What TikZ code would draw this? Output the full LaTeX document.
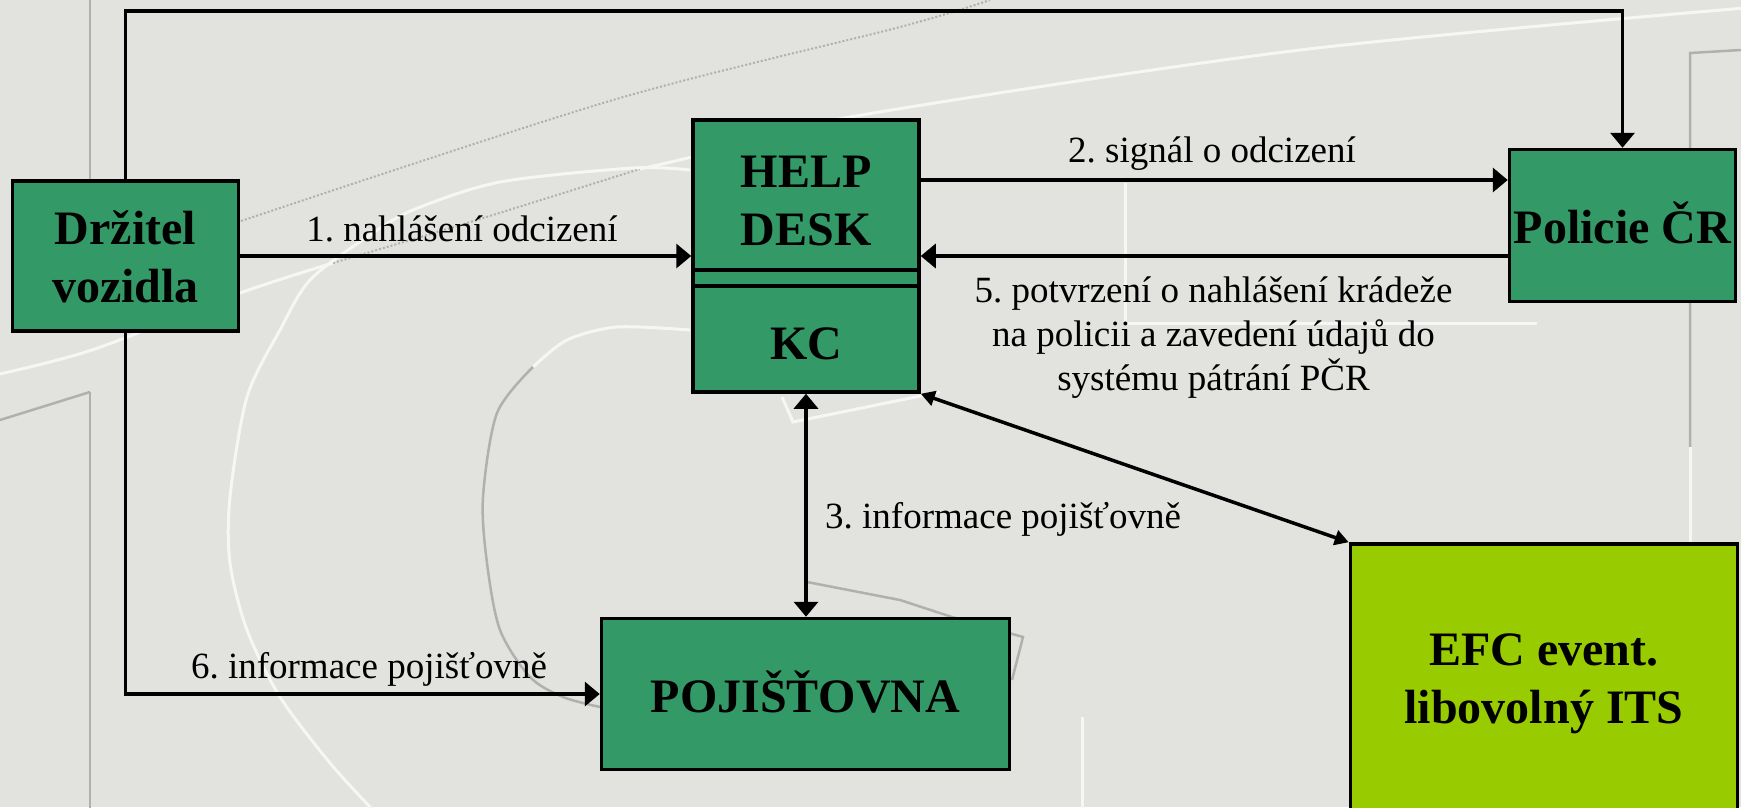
\documentclass[tikz,border=0pt]{standalone}
\usepackage{fontspec}
\setmainfont{Liberation Serif}
\frenchspacing
\usetikzlibrary{arrows.meta,calc}
\definecolor{bg}{RGB}{226,227,223}
\definecolor{boxgreen}{RGB}{51,153,102}
\definecolor{efcgreen}{RGB}{153,204,0}
\definecolor{wmwhite}{RGB}{246,246,244}
\definecolor{wmgray}{RGB}{176,176,174}
\begin{document}
\begin{tikzpicture}[x=1pt,y=-1pt,
  box/.style={draw=black, line width=3.5pt, fill=boxgreen, inner sep=0pt, align=center,
    font=\fontsize{48}{58}\selectfont\bfseries, text depth=0pt},
  lbl/.style={font=\fontsize{37}{44}\selectfont, inner sep=0pt},
  arr/.style={line width=3.5pt, -{Triangle[length=15pt,width=24pt]}},
  darr/.style={line width=3.5pt, {Triangle[length=15pt,width=24pt]}-{Triangle[length=15pt,width=24pt]}},
  diag/.style={line width=3.5pt, {Triangle[length=14pt,width=15pt]}-{Triangle[length=14pt,width=15pt]}},
  wmw/.style={draw=wmwhite, line width=3pt},
  wmg/.style={draw=wmgray, line width=2.5pt},
  wmd/.style={draw=wmgray, line width=2pt, dash pattern=on 2pt off 2pt}
]
\useasboundingbox (0,0) rectangle (1741,807);
\clip (0,0) rectangle (1741,807);
\fill[bg] (0,0) rectangle (1741,807);
% watermark
\draw[wmw] plot[smooth] coordinates {(-5,375) (92,350) (240,293) (333,263)};
\draw[wmd] plot[smooth] coordinates {(333,263) (467,223) (640,169)};
\draw[wmw] plot[smooth] coordinates {(640,169) (700,155) (850,117) (1300,50) (1745,8)};
\draw[wmd] plot[smooth] coordinates {(241,221) (613,100) (900,27) (990,0)};
\draw[wmw] plot[smooth] coordinates {(373,810) (330,763) (280,697) (247,630) (230,563) (230,497) (247,397) (280,330) (310,280) (367,237) (413,210) (500,182) (633,168) (690,170)};
\draw[wmw] plot[smooth] coordinates {(690,330) (617,327) (567,340) (533,367)};
\draw[wmg] plot[smooth] coordinates {(533,367) (497,413) (483,497) (487,563) (500,630) (530,677) (563,697) (600,707)};
\draw[wmg] (90,0) -- (90,180);
\draw[wmg] (90,392) -- (90,810);
\draw[wmg] (0,420) -- (90,392);
\draw[wmg] (1741,50) -- (1690,53) -- (1690,447);
\draw[wmw] (1690,447) -- (1690,543);
\draw[wmw] (1125,183) -- (1125,323) -- (1537,323);
\draw[wmw] (782,397) -- (793,422) -- (940,392);
\draw[wmg] (807,582) -- (900,600) -- (952,617) -- (1023,637) -- (1012,680);
\draw[wmw] (1082,717) -- (1082,810);
% boxes
\node[box, minimum width=226pt, minimum height=150pt, text height=92pt] (drz) at (125.5,256) {Držitel\\vozidla};
\node[box, minimum width=226pt, minimum height=150pt, text height=100pt] (help) at (806,195) {HELP\\DESK};
\node[box, minimum width=226pt, minimum height=106pt, text height=40pt] (kc) at (806,339) {KC};
\draw[line width=3.5pt, fill=boxgreen] ([shift={(1.75pt,1.75pt)}]help.south west) rectangle ([shift={(-1.75pt,-1.75pt)}]kc.north east);
\node[box, minimum width=226pt, minimum height=152pt, text height=35pt] (pol) at (1622.5,225.5) {Policie ČR};
\node[box, minimum width=408pt, minimum height=151pt, text height=36pt] (poj) at (805.5,694) {POJIŠŤOVNA};
\node[box, fill=efcgreen, minimum width=387pt, minimum height=270pt, text height=88pt] (efc) at (1544,679) {EFC event.\\libovolný ITS};
% connectors
\coordinate (topy) at (0,11);
\draw[arr] (drz.north) |- (pol.north |- topy) -- (pol.north);
\draw[arr] (drz.south) |- (poj.west);
\draw[arr] (drz.east) -- (drz.east -| help.west);
\draw[arr] ([yshift=15pt]help.east) -- ([yshift=15pt]help.east -| pol.west);
\draw[arr] ([yshift=-30.5pt]pol.west) -- ([yshift=-30.5pt]pol.west -| help.east);
\draw[darr] (kc.south) -- (kc.south |- poj.north);
\draw[diag] (kc.south east) -- (efc.north west);
% labels
\node[lbl, anchor=base] (l1) at (462,241) {1. nahlášení odcizení};
\node[lbl, anchor=base] (l2) at (1212,162) {2. signál o odcizení};
\node[lbl, anchor=base] (l5a) at (1213.5,302) {5. potvrzení o nahlášení krádeže};
\node[lbl, anchor=base] (l5b) at (1213.5,346) {na policii a zavedení údajů do};
\node[lbl, anchor=base] (l5c) at (1213.5,390) {systému pátrání PČR};
\node[lbl, anchor=base west] (l3) at (825,528) {3. informace pojišťovně};
\node[lbl, anchor=base] (l6) at (369,678) {6. informace pojišťovně};
\end{tikzpicture}
\end{document}
